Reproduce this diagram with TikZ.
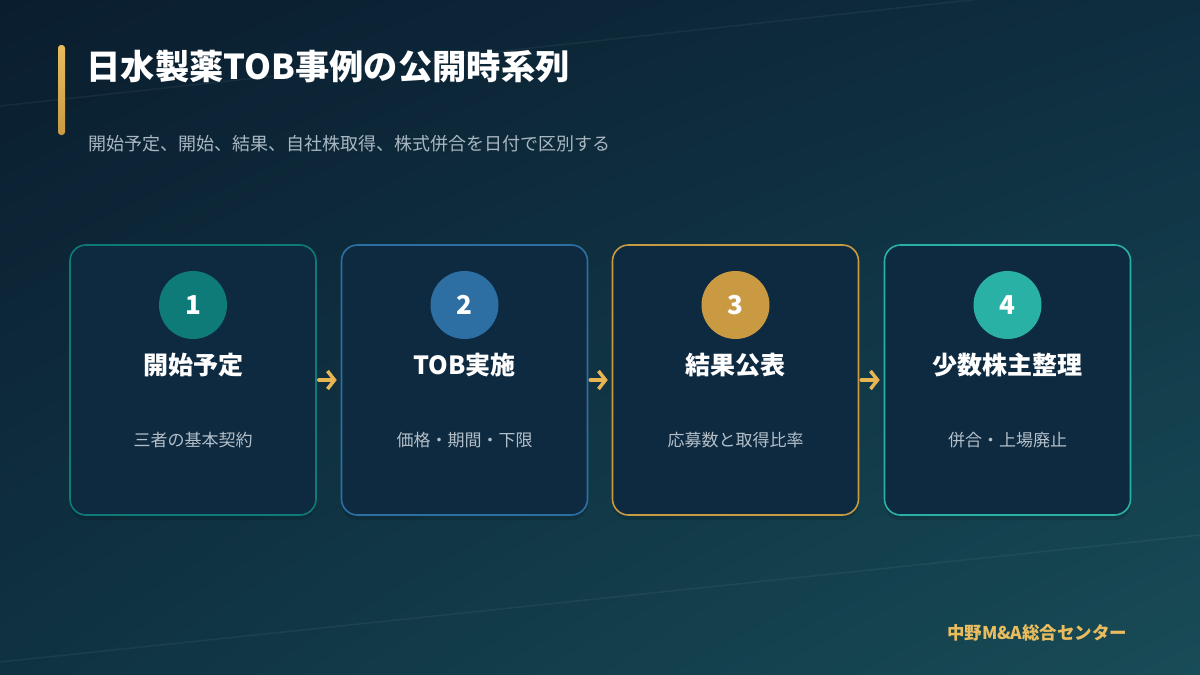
\documentclass[tikz,border=0pt]{standalone}
\usepackage{fontspec}
\setmainfont{Noto Sans CJK JP}
\usetikzlibrary{arrows.meta,shadows,shadings,positioning}
\definecolor{bgA}{HTML}{0A1D2E}
\definecolor{bgB}{HTML}{0E2E40}
\definecolor{bgC}{HTML}{0F3242}
\definecolor{bgD}{HTML}{184C57}
\definecolor{cardfill}{HTML}{0E2A40}
\definecolor{tealA}{HTML}{0F7B78}
\definecolor{blueB}{HTML}{2E6FA3}
\definecolor{goldC}{HTML}{C99A42}
\definecolor{tealD}{HTML}{2AB1A6}
\definecolor{arrowgold}{HTML}{E8B552}
\definecolor{footgold}{HTML}{E9BD5E}
\definecolor{subgray}{HTML}{A9B7C3}
\definecolor{descgray}{HTML}{B3BFC9}
\begin{document}
\begin{tikzpicture}[x=1pt, y=-1pt, line join=round, line cap=round]
\tikzset{
  card/.style={draw=#1, line width=1.6pt, fill=cardfill, rounded corners=16pt,
    minimum width=246pt, minimum height=270pt, inner sep=0pt,
    drop shadow={shadow xshift=0pt, shadow yshift=-5pt, opacity=0.12, fill=black}},
  badge/.style={circle, fill=#1, minimum size=68pt, inner sep=0pt, text=white,
    font=\bfseries\fontsize{26}{26}\selectfont},
  heading/.style={text=white, font=\bfseries\fontsize{25}{25}\selectfont},
  desc/.style={text=descgray, font=\fontsize{17}{17}\selectfont},
  arr/.style={draw=arrowgold, line width=3.5pt, -{Straight Barb[length=7pt, width=18pt]}}
}
\useasboundingbox (0,0) rectangle (1200,675);
% background
\shade[upper left=bgA, upper right=bgB, lower left=bgC, lower right=bgD] (0,0) rectangle (1200,675);
\draw[white, opacity=0.05, line width=1.5pt] (0,106)--(1200,-25);
\draw[white, opacity=0.05, line width=1.5pt] (0,662)--(1200,535);
% title
\shade[top color=footgold, bottom color=goldC, rounded corners=3pt] (58,45) rectangle (65,135);
\node[anchor=west, text=white, font=\bfseries\fontsize{34.3}{34.3}\selectfont] (title) at (83,67) {日水製薬TOB事例の公開時系列};
\node[anchor=west, text=subgray, font=\fontsize{18}{18}\selectfont] (sub) at (85,144) {開始予定、開始、結果、自社株取得、株式併合を日付で区別する};
% steps
\foreach \i/\x/\col/\head/\txt in {1/193/tealA/開始予定/三者の基本契約,
    2/464.5/blueB/TOB実施/価格・期間・下限,
    3/735.5/goldC/結果公表/応募数と取得比率,
    4/1007.5/tealD/少数株主整理/併合・上場廃止}{
  \node[card=\col] (card\i) at (\x,380) {};
  \node[badge=\col] (num\i) at (\x,305) {\i};
  \node[heading] (head\i) at (\x,365) {\head};
  \node[desc] (desc\i) at (\x,440) {\txt};
}
\foreach \a/\b in {1/2,2/3,3/4}
  \draw[arr] ([xshift=2pt]card\a.east) -- ([xshift=-4pt]card\b.west);
% footer
\node[anchor=east, text=footgold, font=\bfseries\fontsize{17.5}{17.5}\selectfont] (footer) at (1131,633) {中野M\&A総合センター};
\end{tikzpicture}
\end{document}
